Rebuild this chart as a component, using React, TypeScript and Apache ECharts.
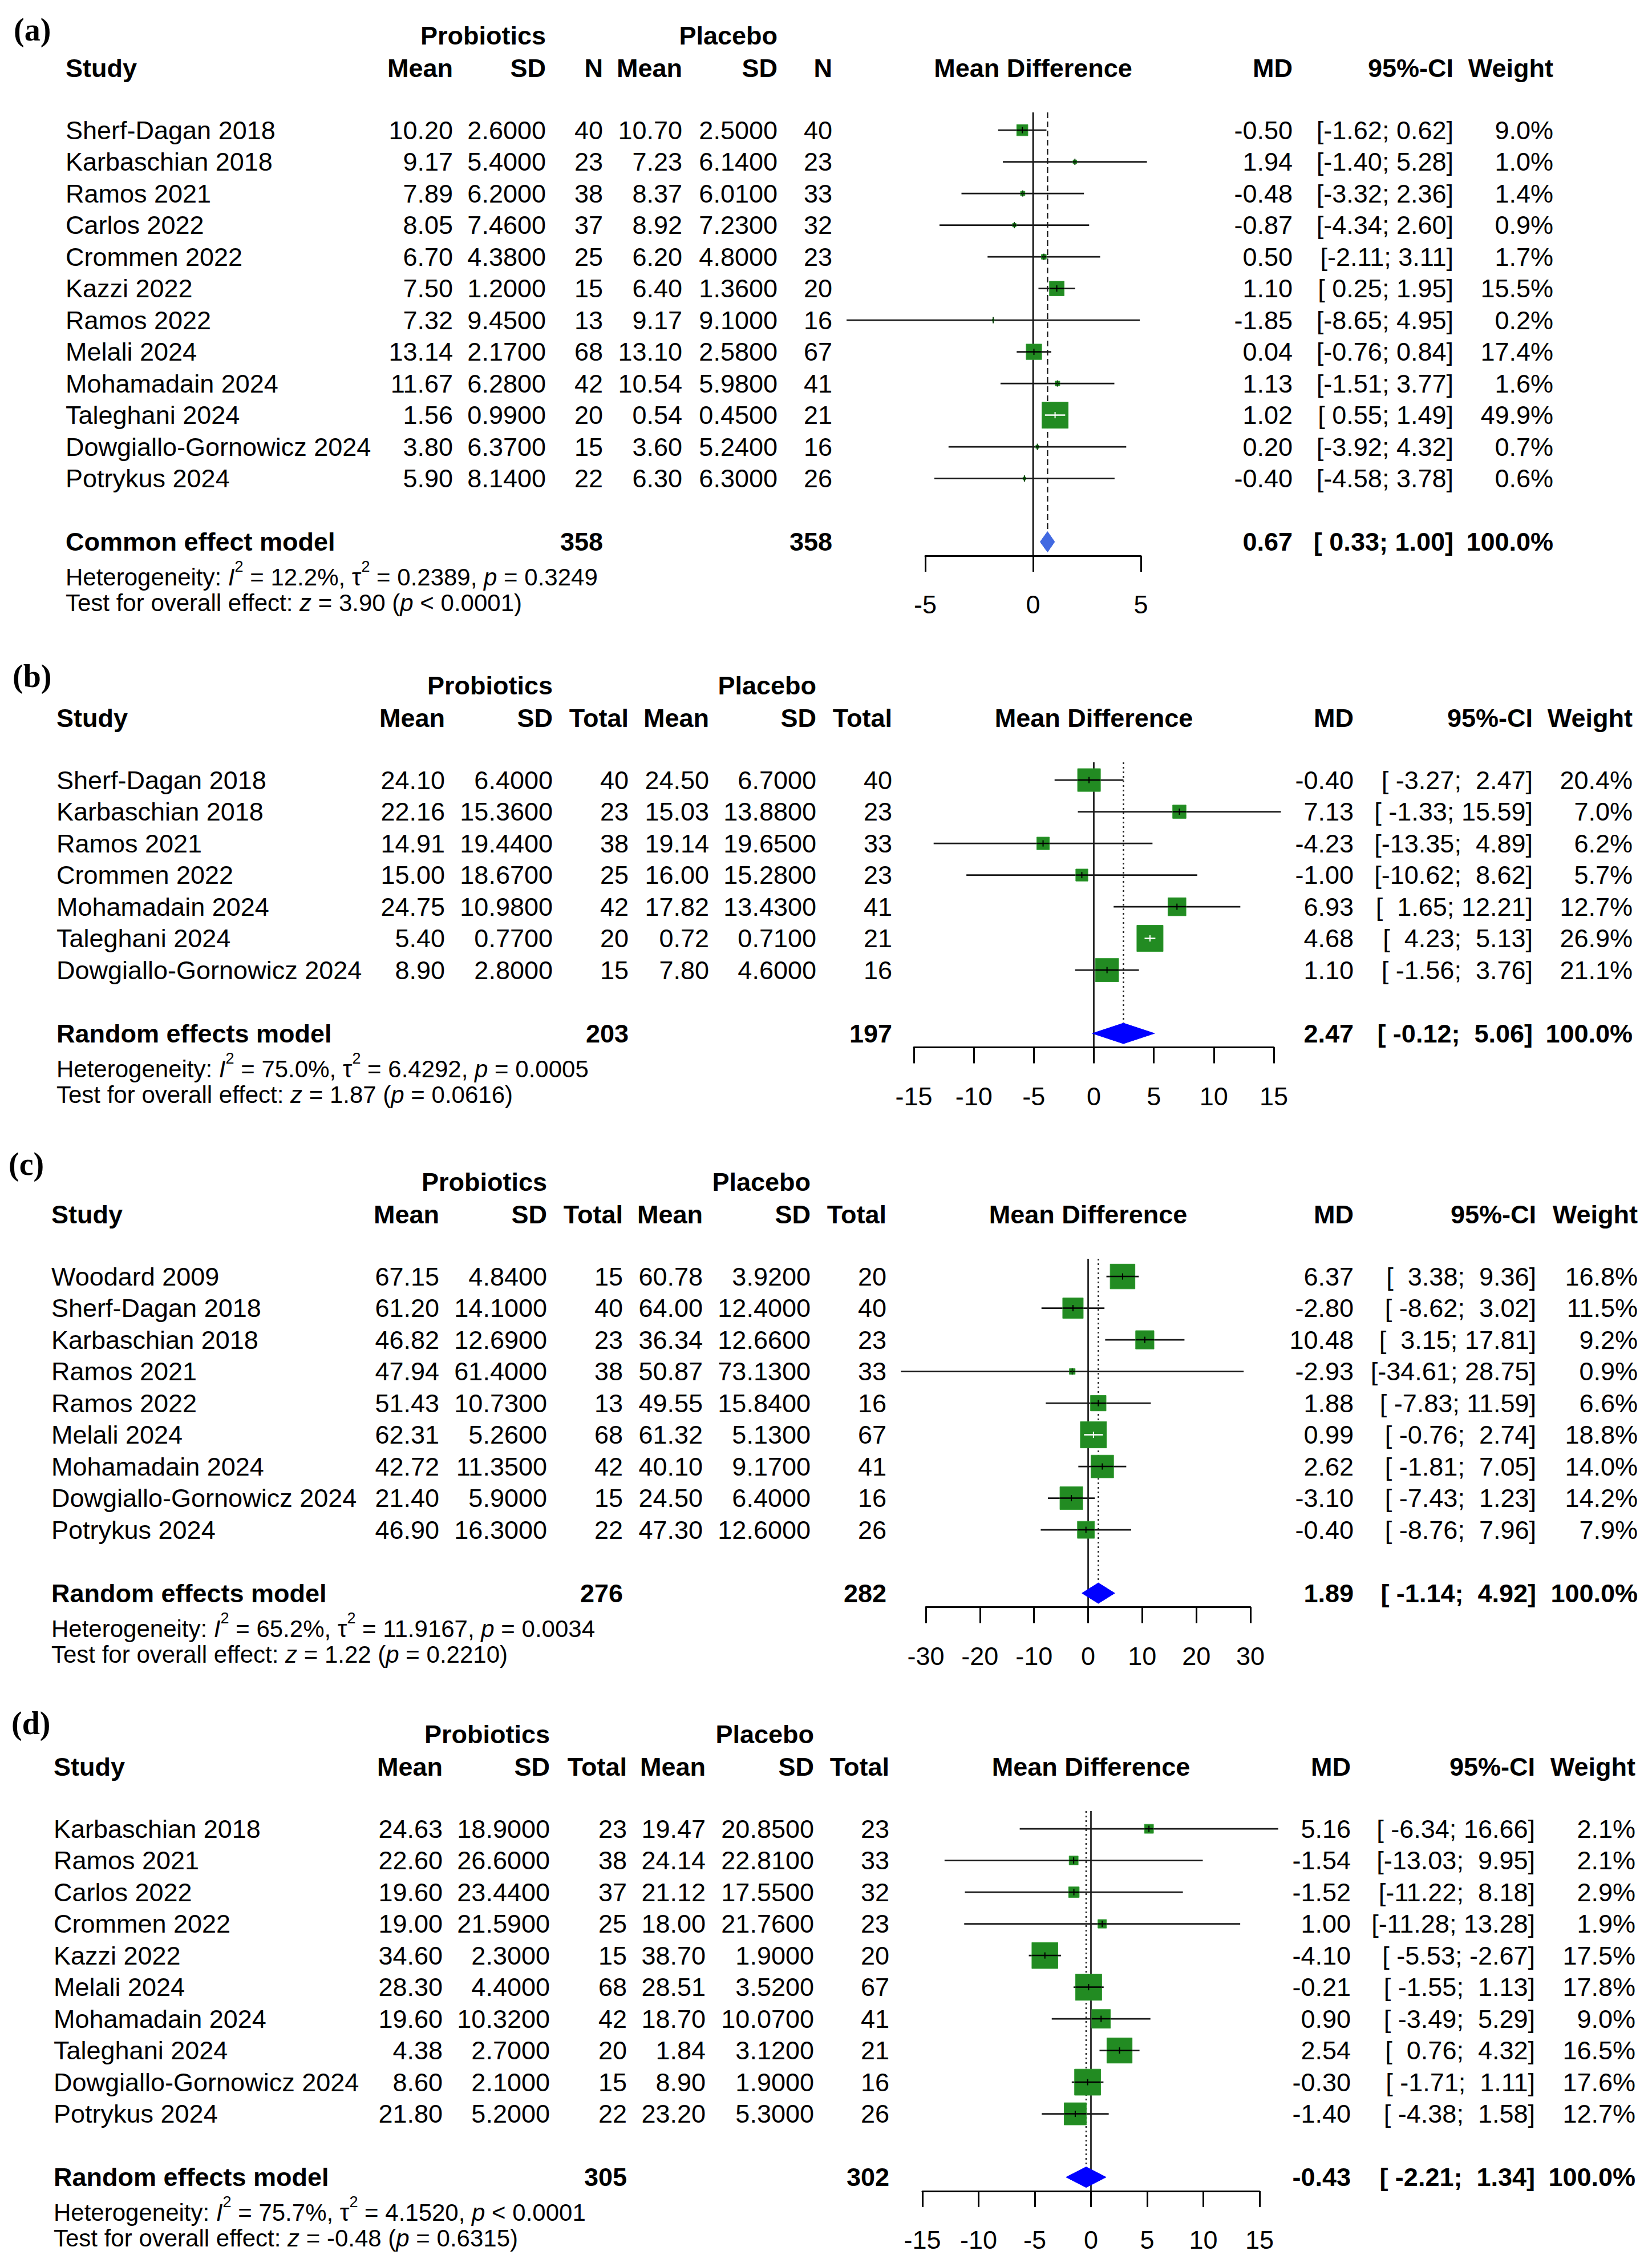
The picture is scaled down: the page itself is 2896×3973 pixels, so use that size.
import React, { useEffect, useRef } from "react";
import * as echarts from "echarts";

const FONT = "'Liberation Sans', Arial, Helvetica, sans-serif";
const SERIF = "'Liberation Serif', 'Times New Roman', serif";
const ROW = 55.5;
const FS = 45;
const HFS = 42;
const DH = 18;
const GREEN = "#228B22";

// ---------------- Panel (a) ----------------
const studiesA = ["Sherf-Dagan 2018", "Karbaschian 2018", "Ramos 2021", "Carlos 2022", "Crommen 2022", "Kazzi 2022", "Ramos 2022", "Melali 2024", "Mohamadain 2024", "Taleghani 2024", "Dowgiallo-Gornowicz 2024", "Potrykus 2024"];
const probMeanA = [10.2, 9.17, 7.89, 8.05, 6.7, 7.5, 7.32, 13.14, 11.67, 1.56, 3.8, 5.9];
const probSdA = [2.6, 5.4, 6.2, 7.46, 4.38, 1.2, 9.45, 2.17, 6.28, 0.99, 6.37, 8.14];
const probNA = [40, 23, 38, 37, 25, 15, 13, 68, 42, 20, 15, 22];
const placMeanA = [10.7, 7.23, 8.37, 8.92, 6.2, 6.4, 9.17, 13.1, 10.54, 0.54, 3.6, 6.3];
const placSdA = [2.5, 6.14, 6.01, 7.23, 4.8, 1.36, 9.1, 2.58, 5.98, 0.45, 5.24, 6.3];
const placNA = [40, 23, 33, 32, 23, 20, 16, 67, 41, 21, 16, 26];
const mdA = [-0.5, 1.94, -0.48, -0.87, 0.5, 1.1, -1.85, 0.04, 1.13, 1.02, 0.2, -0.4];
const lowerA = [-1.62, -1.4, -3.32, -4.34, -2.11, 0.25, -8.65, -0.76, -1.51, 0.55, -3.92, -4.58];
const upperA = [0.62, 5.28, 2.36, 2.6, 3.11, 1.95, 4.95, 0.84, 3.77, 1.49, 4.32, 3.78];
const weightA = [9.0, 1.0, 1.4, 0.9, 1.7, 15.5, 0.2, 17.4, 1.6, 49.9, 0.7, 0.6];
const totalsA = [358, 358];
const pooledA = [0.67, 0.33, 1.0];
const hetA = ["12.2%", "0.2389", "= 0.3249"];
const testA = ["3.90", "< 0.0001"];
const ticksA = [-5, 0, 5];

// ---------------- Panel (b) ----------------
const studiesB = ["Sherf-Dagan 2018", "Karbaschian 2018", "Ramos 2021", "Crommen 2022", "Mohamadain 2024", "Taleghani 2024", "Dowgiallo-Gornowicz 2024"];
const probMeanB = [24.1, 22.16, 14.91, 15.0, 24.75, 5.4, 8.9];
const probSdB = [6.4, 15.36, 19.44, 18.67, 10.98, 0.77, 2.8];
const probNB = [40, 23, 38, 25, 42, 20, 15];
const placMeanB = [24.5, 15.03, 19.14, 16.0, 17.82, 0.72, 7.8];
const placSdB = [6.7, 13.88, 19.65, 15.28, 13.43, 0.71, 4.6];
const placNB = [40, 23, 33, 23, 41, 21, 16];
const mdB = [-0.4, 7.13, -4.23, -1.0, 6.93, 4.68, 1.1];
const lowerB = [-3.27, -1.33, -13.35, -10.62, 1.65, 4.23, -1.56];
const upperB = [2.47, 15.59, 4.89, 8.62, 12.21, 5.13, 3.76];
const weightB = [20.4, 7.0, 6.2, 5.7, 12.7, 26.9, 21.1];
const totalsB = [203, 197];
const pooledB = [2.47, -0.12, 5.06];
const hetB = ["75.0%", "6.4292", "= 0.0005"];
const testB = ["1.87", "= 0.0616"];
const ticksB = [-15, -10, -5, 0, 5, 10, 15];

// ---------------- Panel (c) ----------------
const studiesC = ["Woodard 2009", "Sherf-Dagan 2018", "Karbaschian 2018", "Ramos 2021", "Ramos 2022", "Melali 2024", "Mohamadain 2024", "Dowgiallo-Gornowicz 2024", "Potrykus 2024"];
const probMeanC = [67.15, 61.2, 46.82, 47.94, 51.43, 62.31, 42.72, 21.4, 46.9];
const probSdC = [4.84, 14.1, 12.69, 61.4, 10.73, 5.26, 11.35, 5.9, 16.3];
const probNC = [15, 40, 23, 38, 13, 68, 42, 15, 22];
const placMeanC = [60.78, 64.0, 36.34, 50.87, 49.55, 61.32, 40.1, 24.5, 47.3];
const placSdC = [3.92, 12.4, 12.66, 73.13, 15.84, 5.13, 9.17, 6.4, 12.6];
const placNC = [20, 40, 23, 33, 16, 67, 41, 16, 26];
const mdC = [6.37, -2.8, 10.48, -2.93, 1.88, 0.99, 2.62, -3.1, -0.4];
const lowerC = [3.38, -8.62, 3.15, -34.61, -7.83, -0.76, -1.81, -7.43, -8.76];
const upperC = [9.36, 3.02, 17.81, 28.75, 11.59, 2.74, 7.05, 1.23, 7.96];
const weightC = [16.8, 11.5, 9.2, 0.9, 6.6, 18.8, 14.0, 14.2, 7.9];
const totalsC = [276, 282];
const pooledC = [1.89, -1.14, 4.92];
const hetC = ["65.2%", "11.9167", "= 0.0034"];
const testC = ["1.22", "= 0.2210"];
const ticksC = [-30, -20, -10, 0, 10, 20, 30];

// ---------------- Panel (d) ----------------
const studiesD = ["Karbaschian 2018", "Ramos 2021", "Carlos 2022", "Crommen 2022", "Kazzi 2022", "Melali 2024", "Mohamadain 2024", "Taleghani 2024", "Dowgiallo-Gornowicz 2024", "Potrykus 2024"];
const probMeanD = [24.63, 22.6, 19.6, 19.0, 34.6, 28.3, 19.6, 4.38, 8.6, 21.8];
const probSdD = [18.9, 26.6, 23.44, 21.59, 2.3, 4.4, 10.32, 2.7, 2.1, 5.2];
const probND = [23, 38, 37, 25, 15, 68, 42, 20, 15, 22];
const placMeanD = [19.47, 24.14, 21.12, 18.0, 38.7, 28.51, 18.7, 1.84, 8.9, 23.2];
const placSdD = [20.85, 22.81, 17.55, 21.76, 1.9, 3.52, 10.07, 3.12, 1.9, 5.3];
const placND = [23, 33, 32, 23, 20, 67, 41, 21, 16, 26];
const mdD = [5.16, -1.54, -1.52, 1.0, -4.1, -0.21, 0.9, 2.54, -0.3, -1.4];
const lowerD = [-6.34, -13.03, -11.22, -11.28, -5.53, -1.55, -3.49, 0.76, -1.71, -4.38];
const upperD = [16.66, 9.95, 8.18, 13.28, -2.67, 1.13, 5.29, 4.32, 1.11, 1.58];
const weightD = [2.1, 2.1, 2.9, 1.9, 17.5, 17.8, 9.0, 16.5, 17.6, 12.7];
const totalsD = [305, 302];
const pooledD = [-0.43, -2.21, 1.34];
const hetD = ["75.7%", "4.1520", "< 0.0001"];
const testD = ["-0.48", "= 0.6315"];
const ticksD = [-15, -10, -5, 0, 5, 10, 15];

// ---------------- layout (pixels) ----------------
const panels = [
  {
    label: "(a)", labelX: 24, labelY: 52, row0: 228, studyX: 115,
    cols: [794, 957, 1057, 1196, 1363, 1459], mdEnd: 2266, ciEnd: 2548, wEnd: 2723,
    axisLeft: 1622, axisRight: 2000, nHead: "N", model: "Common effect model",
    dash: [10, 6], diamond: "#4169E1",
    studies: studiesA, m1: probMeanA, s1: probSdA, n1: probNA, m2: placMeanA, s2: placSdA, n2: placNA,
    md: mdA, lo: lowerA, hi: upperA, w: weightA, totals: totalsA, pooled: pooledA, het: hetA, test: testA, ticks: ticksA,
  },
  {
    label: "(b)", labelX: 22, labelY: 1185, row0: 1367, studyX: 99,
    cols: [780, 969, 1102, 1243, 1431, 1564], mdEnd: 2373, ciEnd: 2687, wEnd: 2862,
    axisLeft: 1602, axisRight: 2233, nHead: "Total", model: "Random effects model",
    dash: [3, 5], diamond: "#0000FF",
    studies: studiesB, m1: probMeanB, s1: probSdB, n1: probNB, m2: placMeanB, s2: placSdB, n2: placNB,
    md: mdB, lo: lowerB, hi: upperB, w: weightB, totals: totalsB, pooled: pooledB, het: hetB, test: testB, ticks: ticksB,
  },
  {
    label: "(c)", labelX: 15, labelY: 2040, row0: 2237, studyX: 90,
    cols: [770, 959, 1092, 1232, 1421, 1554], mdEnd: 2373, ciEnd: 2693, wEnd: 2871,
    axisLeft: 1623, axisRight: 2192, nHead: "Total", model: "Random effects model",
    dash: [3, 5], diamond: "#0000FF",
    studies: studiesC, m1: probMeanC, s1: probSdC, n1: probNC, m2: placMeanC, s2: placSdC, n2: placNC,
    md: mdC, lo: lowerC, hi: upperC, w: weightC, totals: totalsC, pooled: pooledC, het: hetC, test: testC, ticks: ticksC,
  },
  {
    label: "(d)", labelX: 20, labelY: 3020, row0: 3205, studyX: 94,
    cols: [776, 964, 1099, 1237, 1427, 1559], mdEnd: 2368, ciEnd: 2691, wEnd: 2867,
    axisLeft: 1617, axisRight: 2208, nHead: "Total", model: "Random effects model",
    dash: [3, 5], diamond: "#0000FF",
    studies: studiesD, m1: probMeanD, s1: probSdD, n1: probND, m2: placMeanD, s2: placSdD, n2: placND,
    md: mdD, lo: lowerD, hi: upperD, w: weightD, totals: totalsD, pooled: pooledD, het: hetD, test: testD, ticks: ticksD,
  },
];

function txt(text: string, x: number, y: number, align: string, bold = false, size = FS, family = FONT) {
  return {
    type: "text",
    x,
    y,
    silent: true,
    style: {
      text,
      fill: "#000",
      fontSize: size,
      fontFamily: family,
      fontWeight: bold ? "bold" : "normal",
      align,
      verticalAlign: "middle",
      textAlign: align,
      textVerticalAlign: "middle",
    },
  };
}

function richTxt(text: string, x: number, y: number) {
  const base = { fill: "#000", fontSize: HFS, fontFamily: FONT, lineHeight: 64 };
  return {
    type: "text",
    x,
    y,
    silent: true,
    style: {
      text,
      fill: "#000",
      fontSize: HFS,
      fontFamily: FONT,
      align: "left",
      verticalAlign: "middle",
      textAlign: "left",
      textVerticalAlign: "middle",
      rich: {
        n: { ...base },
        i: { ...base, fontStyle: "italic" },
        s: { fill: "#000", fontSize: 27, fontFamily: FONT, lineHeight: 28, verticalAlign: "top" },
      },
    },
  };
}

function padL(s: string, w: number) {
  while (s.length < w) s = " " + s;
  return s;
}

function buildOption() {
  const grid: any[] = [];
  const xAxis: any[] = [];
  const yAxis: any[] = [];
  const series: any[] = [];
  const graphic: any[] = [];

  panels.forEach((P, idx) => {
    const n = P.studies.length;
    const top = P.row0 - 31;
    const modelRow = n + 1 + 0.56;
    const modelY = P.row0 + (n + 1) * ROW;
    const wmax = Math.max(...P.w);
    const loStrs = P.lo.concat([P.pooled[1]]).map((v) => v.toFixed(2));
    const hiStrs = P.hi.concat([P.pooled[2]]).map((v) => v.toFixed(2));
    const loW = Math.max(...loStrs.map((s) => s.length));
    const hiW = Math.max(...hiStrs.map((s) => s.length));
    const ciStr = (k: number) => "[" + padL(loStrs[k], loW) + "; " + padL(hiStrs[k], hiW) + "]";

    grid.push({ left: P.axisLeft, top, width: P.axisRight - P.axisLeft, height: (n + 2) * ROW, containLabel: false });
    xAxis.push({
      gridIndex: idx,
      type: "value",
      min: P.ticks[0],
      max: P.ticks[P.ticks.length - 1],
      interval: P.ticks[1] - P.ticks[0],
      position: "bottom",
      axisLine: { show: true, onZero: false, lineStyle: { color: "#000", width: 3 } },
      axisTick: { show: true, length: 28, lineStyle: { color: "#000", width: 3 } },
      axisLabel: { color: "#000", fontSize: FS, fontFamily: FONT, margin: 63, showMinLabel: true, showMaxLabel: true },
      splitLine: { show: false },
    });
    yAxis.push({ gridIndex: idx, type: "value", min: 0, max: n + 2, inverse: true, show: false });

    // zero line + pooled reference line
    series.push({
      type: "custom",
      xAxisIndex: idx,
      yAxisIndex: idx,
      silent: true,
      clip: false,
      z: 1,
      encode: { x: 0, y: 1 },
      data: [[0, 0, P.pooled[0]]],
      renderItem: (params: any, api: any) => {
        const [x0, yTop] = api.coord([0, 0]);
        const yBot = api.coord([0, n + 2])[1];
        const xr = api.coord([api.value(2), 0])[0];
        const yDia = api.coord([0, modelRow])[1] - DH;
        return {
          type: "group",
          children: [
            { type: "line", shape: { x1: x0, y1: yTop, x2: x0, y2: yBot }, style: { stroke: "#000", lineWidth: 2.5 } },
            { type: "line", shape: { x1: xr, y1: yTop, x2: xr, y2: yDia }, style: { stroke: "#222", lineWidth: 2.5, lineDash: P.dash } },
          ],
        };
      },
    });

    // study rows
    series.push({
      type: "custom",
      xAxisIndex: idx,
      yAxisIndex: idx,
      silent: true,
      clip: false,
      z: 3,
      encode: { x: 0, y: 1 },
      data: P.studies.map((_, i) => [P.md[i], i + 0.56, P.lo[i], P.hi[i], P.w[i], i]),
      renderItem: (params: any, api: any) => {
        const i = api.value(5);
        const rowY = api.value(1);
        const [cx, cy] = api.coord([api.value(0), rowY]);
        const xl = api.coord([api.value(2), rowY])[0];
        const xh = api.coord([api.value(3), rowY])[0];
        const s = Math.max(3.5, 46 * Math.sqrt(api.value(4) / wmax));
        const half = s / 2;
        const inside = xl >= cx - half && xh <= cx + half;
        const col = inside ? "#fff" : "#000";
        const il = Math.max(xl, cx - half);
        const ir = Math.min(xh, cx + half);
        const th = 11;
        const children: any[] = [
          { type: "line", shape: { x1: xl, y1: cy, x2: xh, y2: cy }, style: { stroke: "#1a1a1a", lineWidth: 2.7 } },
          { type: "rect", shape: { x: cx - half, y: cy - half, width: s, height: s }, style: { fill: GREEN, stroke: "#2f9a2f", lineWidth: 1 } },
          { type: "line", shape: { x1: il, y1: cy, x2: ir, y2: cy }, style: { stroke: col, lineWidth: 2.5 } },
          { type: "line", shape: { x1: cx, y1: cy - th / 2, x2: cx, y2: cy + th / 2 }, style: { stroke: s < th ? "#0b3d0b" : col, lineWidth: 2 } },
          txt(P.studies[i], P.studyX, cy, "left"),
          txt(P.m1[i].toFixed(2), P.cols[0], cy, "right"),
          txt(P.s1[i].toFixed(4), P.cols[1], cy, "right"),
          txt(String(P.n1[i]), P.cols[2], cy, "right"),
          txt(P.m2[i].toFixed(2), P.cols[3], cy, "right"),
          txt(P.s2[i].toFixed(4), P.cols[4], cy, "right"),
          txt(String(P.n2[i]), P.cols[5], cy, "right"),
          txt(P.md[i].toFixed(2), P.mdEnd, cy, "right"),
          txt(ciStr(i), P.ciEnd, cy, "right"),
          txt(P.w[i].toFixed(1) + "%", P.wEnd, cy, "right"),
        ];
        return { type: "group", children };
      },
    });

    // pooled estimate (diamond) row
    series.push({
      type: "custom",
      xAxisIndex: idx,
      yAxisIndex: idx,
      silent: true,
      clip: false,
      z: 3,
      encode: { x: 0, y: 1 },
      data: [[P.pooled[0], modelRow, P.pooled[1], P.pooled[2]]],
      renderItem: (params: any, api: any) => {
        const rowY = api.value(1);
        const [cx, cy] = api.coord([api.value(0), rowY]);
        const xl = api.coord([api.value(2), rowY])[0];
        const xh = api.coord([api.value(3), rowY])[0];
        return {
          type: "group",
          children: [
            {
              type: "polygon",
              shape: { points: [[xl, cy], [cx, cy - DH], [xh, cy], [cx, cy + DH]] },
              style: { fill: P.diamond, stroke: P.diamond, lineWidth: 1 },
            },
            txt(P.model, P.studyX, cy, "left", true),
            txt(String(P.totals[0]), P.cols[2], cy, "right", true),
            txt(String(P.totals[1]), P.cols[5], cy, "right", true),
            txt(P.pooled[0].toFixed(2), P.mdEnd, cy, "right", true),
            txt(ciStr(n), P.ciEnd, cy, "right", true),
            txt("100.0%", P.wEnd, cy, "right", true),
          ],
        };
      },
    });

    // headers & footers
    const hy = P.row0 - 109;
    const gy = P.row0 - 166;
    graphic.push(txt(P.label, P.labelX, P.labelY, "left", true, 56, SERIF));
    graphic.push(txt("Probiotics", P.cols[1], gy, "right", true));
    graphic.push(txt("Placebo", P.cols[4], gy, "right", true));
    graphic.push(txt("Study", P.studyX, hy, "left", true));
    graphic.push(txt("Mean", P.cols[0], hy, "right", true));
    graphic.push(txt("SD", P.cols[1], hy, "right", true));
    graphic.push(txt(P.nHead, P.cols[2], hy, "right", true));
    graphic.push(txt("Mean", P.cols[3], hy, "right", true));
    graphic.push(txt("SD", P.cols[4], hy, "right", true));
    graphic.push(txt(P.nHead, P.cols[5], hy, "right", true));
    graphic.push(txt("Mean Difference", (P.axisLeft + P.axisRight) / 2, hy, "center", true));
    graphic.push(txt("MD", P.mdEnd, hy, "right", true));
    graphic.push(txt("95%-CI", P.ciEnd, hy, "right", true));
    graphic.push(txt("Weight", P.wEnd, hy, "right", true));

    const hetY = modelY + 62;
    const testY = hetY + 45;
    graphic.push(
      richTxt(
        `{n|Heterogeneity: }{i|I}{s|2}{n| = ${P.het[0]}, τ}{s|2}{n| = ${P.het[1]}, }{i|p}{n| ${P.het[2]}}`,
        P.studyX,
        hetY
      )
    );
    graphic.push(
      richTxt(`{n|Test for overall effect: }{i|z}{n| = ${P.test[0]} (}{i|p}{n| ${P.test[1]})}`, P.studyX, testY)
    );
  });

  return {
    animation: false,
    backgroundColor: "#ffffff",
    grid,
    xAxis,
    yAxis,
    series,
    graphic: { elements: graphic },
  };
}

export default function App() {
  const ref = useRef<HTMLDivElement>(null);
  useEffect(() => {
    if (!ref.current) return;
    const chart = echarts.init(ref.current, null, { renderer: "svg", width: 2896, height: 3973 });
    chart.setOption(buildOption() as any);
    return () => chart.dispose();
  }, []);
  return (
    <div
      ref={ref}
      style={{ position: "absolute", left: 0, top: 0, width: 2896, height: 3973, background: "#fff" }}
    />
  );
}
